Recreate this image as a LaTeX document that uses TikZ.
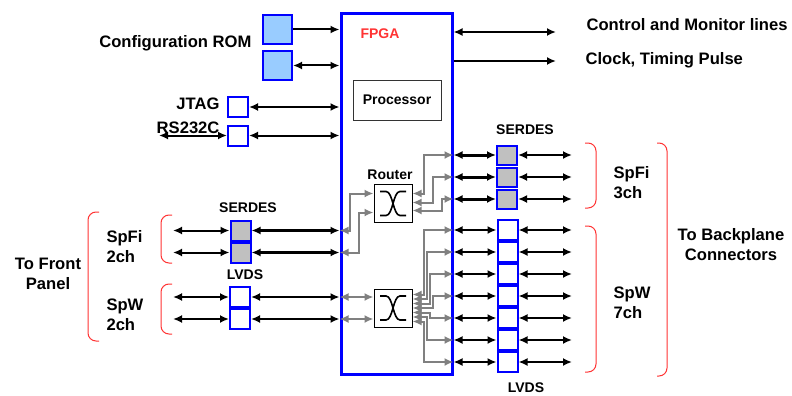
\documentclass[tikz,border=0pt]{standalone}
\usepackage{fontspec}
\setmainfont{Liberation Sans}
\usetikzlibrary{arrows.meta,positioning,calc,chains}

\definecolor{fpgablue}{RGB}{0,0,255}
\definecolor{romblue}{RGB}{153,204,255}
\definecolor{serdesgray}{RGB}{192,192,192}
\definecolor{linkgray}{RGB}{128,128,128}
\definecolor{brkred}{RGB}{255,51,51}

\begin{document}
\begin{tikzpicture}[
	x=1pt, y=-1pt,
	>={Latex[length=9pt,width=8pt]},
	font=\bfseries\fontsize{16.6}{20}\selectfont,
	small/.style = {font=\bfseries\fontsize{14}{16}\selectfont},
	fpga/.style = {rectangle, draw=fpgablue, line width=3pt,
		minimum width=111pt, minimum height=360pt},
	rom/.style = {rectangle, draw=fpgablue, line width=2pt, fill=romblue,
		minimum size=29pt, inner sep=0pt},
	port/.style = {rectangle, draw=fpgablue, line width=2pt, fill=white,
		minimum width=20pt, minimum height=20pt, inner sep=0pt},
	serdes/.style = {port, fill=serdesgray},
	swbox/.style = {rectangle, draw, line width=1pt,
		minimum width=38pt, minimum height=38pt},
	link/.style = {draw=black, line width=2pt, <->},
	glink/.style = {draw=linkgray, line width=2pt, <->},
	brk/.style = {draw=brkred, line width=1pt, rounded corners=8pt},
	]
	\useasboundingbox (0,0) rectangle (792,396);

	% FPGA with processor and the two switches
	\node[fpga] (fpga) at (396.5,194) {};
	\node[small, text=brkred, anchor=base west] (fpgalbl) at (357,38) {FPGA};
	\node[small, draw=black!80, line width=1pt, minimum width=88pt, minimum height=40pt] (cpu) at (397,100) {Processor};
	\node[swbox] (router) at (393,203.5) {};
	\node[small, anchor=base] (routerlbl) at (390,179) {Router};
	\node[swbox] (lvdsw) at (393,308) {};
	\foreach \sw in {router,lvdsw}{
		\draw[line width=1.6pt, shift={(\sw.center)}] (-13,-12) -- (-7,-12) .. controls (0,-12) and (0,12) .. (7,12) -- (13,12);
		\draw[line width=1.6pt, shift={(\sw.center)}] (13,-12) -- (7,-12) .. controls (0,-12) and (0,12) .. (-7,12) -- (-13,12);
	}

	% configuration ROM, JTAG, RS232C
	\node[rom] (rom1) at (277.5,29.5) {};
	\node[rom] (rom2) at (277.5,65.5) {};
	\node[anchor=base east] (romlbl) at (255,48) {Configuration ROM};
	\node[port] (jtag) at (238,107) {};
	\node[port] (rs232) at (238,135.5) {};
	\node[anchor=base east] (jtaglbl) at (223,109) {JTAG};
	\node[anchor=base east] (rslbl) at (223,133) {RS232C};
	\coordinate (rsend) at (159,135.5);

	\draw[link,->] (rom1.east) -- (rom1.east -| fpga.west);
	\draw[link] (rom2.east) -- (rom2.east -| fpga.west);
	\draw[link] (jtag.east) -- (jtag.east -| fpga.west);
	\draw[link] (rs232.east) -- (rs232.east -| fpga.west);
	\draw[link] (rsend) -- (rs232.west);

	% control and clock lines
	\coordinate (ctlend) at (556,32);
	\coordinate (clkend) at (556,61);
	\node[anchor=base west] (ctllbl) at (583,31) {Control and Monitor lines};
	\node[anchor=base west] (clklbl) at (582,64) {Clock, Timing Pulse};
	\draw[link] (ctlend -| fpga.east) -- (ctlend);
	\draw[link,->] (clkend -| fpga.east) -- (clkend);

	% backplane side
	\begin{scope}[start chain = SR going below, node distance = 1pt,
		every node/.append style = {serdes, minimum height=19pt, on chain}]
	\node (SR-1) at (507,155) {};
	\node (SR-2) {};
	\node (SR-3) {};
	\end{scope}
	\begin{scope}[start chain = LR going below, node distance = 0pt,
		every node/.append style = {port, on chain}]
	\node (LR-1) at (507.5,230) {};
	\node (LR-2) {};
	\node (LR-3) {};
	\node (LR-4) {};
	\node (LR-5) {};
	\node (LR-6) {};
	\node (LR-7) {};
	\end{scope}
	\node[small, anchor=base] (srlbl) at (525,134.5) {SERDES};
	\node[small, anchor=base] (lrlbl) at (526,392.5) {LVDS};
	\coordinate (bpend) at (572,0);

	\foreach \b in {SR-1,SR-2,SR-3}{
		\draw[link, line width=3pt] (\b.west -| fpga.east) -- (\b.west);
		\draw[link] (\b.east) -- (\b.east -| bpend);
	}
	\foreach \b in {LR-1,LR-2,LR-3,LR-4,LR-5,LR-6,LR-7}{
		\draw[link] (\b.west -| fpga.east) -- (\b.west);
		\draw[link] (\b.east) -- (\b.east -| bpend);
	}

	% front panel side
	\begin{scope}[start chain = SL going below, node distance = 0pt,
		every node/.append style = {serdes, on chain}]
	\node (SL-1) at (240.5,230.5) {};
	\node (SL-2) {};
	\end{scope}
	\begin{scope}[start chain = LL going below, node distance = 0pt,
		every node/.append style = {port, on chain}]
	\node (LL-1) at (240,297) {};
	\node (LL-2) {};
	\end{scope}
	\node[small, anchor=base] (sllbl) at (248,212) {SERDES};
	\node[small, anchor=base] (lllbl) at (245,279) {LVDS};
	\coordinate (fpend) at (173,0);

	\foreach \b in {SL-1,SL-2}{
		\draw[link] (\b.west -| fpend) -- (\b.west);
		\draw[link, line width=3pt] (\b.east) -- (\b.east -| fpga.west);
	}
	\foreach \b in {LL-1,LL-2}{
		\draw[link] (\b.west -| fpend) -- (\b.west);
		\draw[link] (\b.east) -- (\b.east -| fpga.west);
	}

	% internal routing
	\draw[glink] (SL-1.east -| fpga.west) -- ++(10,0) |- ([yshift=10pt]router.west);
	\draw[glink] (SL-2.east -| fpga.west) -- ++(19,0) |- ([yshift=-9pt]router.west);
	\draw[glink] ([yshift=10pt]router.east) -- ++(11,0) |- (SR-1.west -| fpga.east);
	\draw[glink] ([yshift=1pt]router.east) -- ++(20,0) |- (SR-2.west -| fpga.east);
	\draw[glink] ([yshift=-7pt]router.east) -- ++(29,0) |- (SR-3.west -| fpga.east);

	\draw[glink] (LL-1.east -| fpga.west) -- (LL-1.east -| lvdsw.west);
	\draw[glink] (LL-2.east -| fpga.west) -- (LL-2.east -| lvdsw.west);
	\foreach \i/\dy/\dx in {1/13.5pt/11, 2/9pt/14, 3/4.5pt/17, 4/0pt/20, 5/-4.5pt/17, 6/-9pt/14, 7/-13.5pt/11}
		\draw[glink] ([yshift=\dy]lvdsw.east) -- ++(\dx,0) |- (LR-\i.west -| fpga.east);

	% brackets
	\draw[brk] (172,215) -| (161,263) -- (172,263);
	\draw[brk] (172,284) -| (161,334) -- (172,334);
	\draw[brk] (99,212) -| (88,341) -- (99,341);
	\draw[brk] (585,143) -| (596,208) -- (585,208);
	\draw[brk] (585,226) -| (596,372) -- (585,372);
	\draw[brk] (657,143) -| (667,376) -- (657,376);

	% base anchor of a two-line node sits on its last line
	\node[anchor=base west, align=left] (fspfi) at (103,262) {SpFi\\2ch};
	\node[anchor=base west, align=left] (fspw) at (103,330) {SpW\\2ch};
	\node[anchor=base, align=center] (front) at (48,289) {To Front\\Panel};
	\node[anchor=base west, align=left] (bspfi) at (610,198) {SpFi\\3ch};
	\node[anchor=base west, align=left] (bspw) at (610,318) {SpW\\7ch};
	\node[anchor=base, align=center] (back) at (731,260) {To Backplane\\Connectors};
\end{tikzpicture}
\end{document}
